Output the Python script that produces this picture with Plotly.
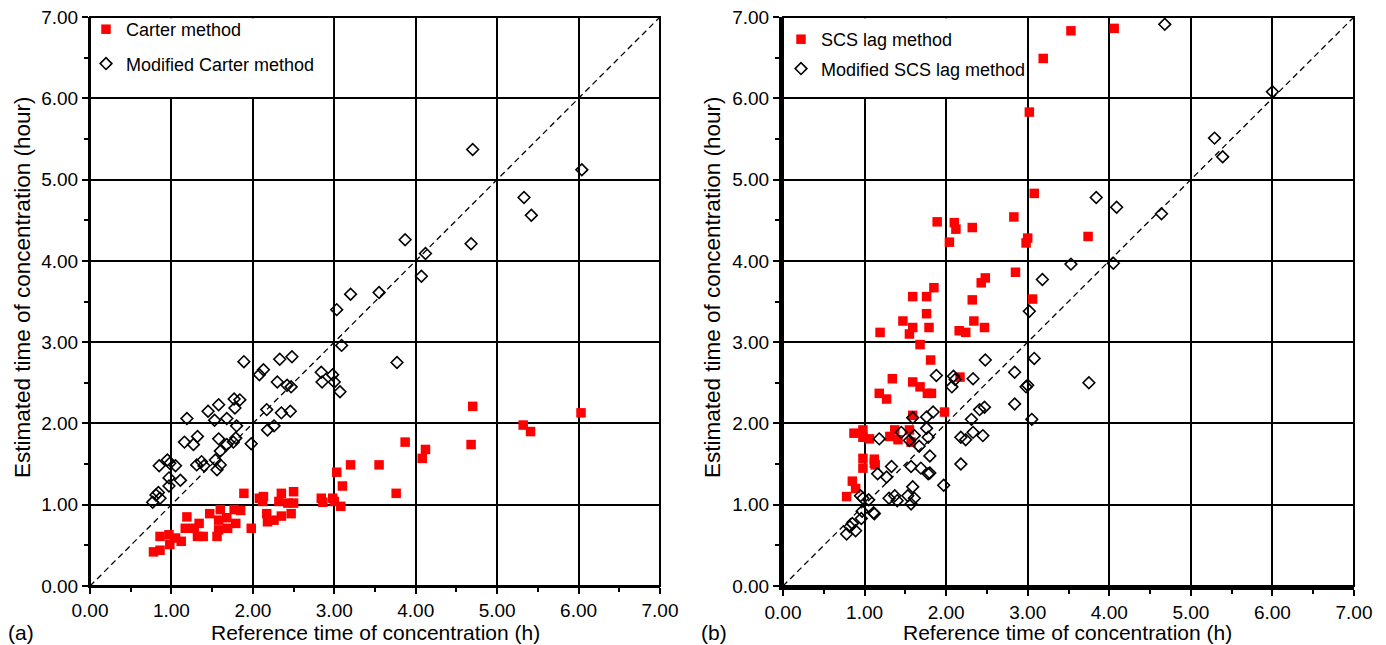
import plotly.graph_objects as go

# ---- (a) Carter method vs modified Carter method ----
carter_x = [0.78, 0.86, 0.86, 0.97, 0.98, 1.05, 1.12, 1.19, 1.17, 1.28, 1.34, 1.32, 1.39, 1.47,
            1.56, 1.58, 1.60, 1.58, 1.68, 1.69, 1.77, 1.79, 1.85, 1.89, 1.98, 2.08, 2.13, 2.12,
            2.17, 2.18, 2.26, 2.35, 2.32, 2.35, 2.43, 2.50, 2.47, 2.50, 2.84, 2.86, 2.98, 3.00,
            3.03, 3.08, 3.10, 3.20, 3.55, 3.76, 3.87, 4.08, 4.12, 4.68, 4.70, 5.32, 5.41, 6.03]
carter_y = [0.42, 0.44, 0.61, 0.63, 0.51, 0.59, 0.55, 0.85, 0.71, 0.71, 0.77, 0.61, 0.61, 0.89,
            0.61, 0.69, 0.94, 0.81, 0.84, 0.71, 0.94, 0.77, 0.93, 1.14, 0.71, 1.08, 1.10, 1.04,
            0.89, 0.79, 0.81, 1.14, 1.04, 0.86, 1.02, 1.16, 0.89, 1.02, 1.08, 1.03, 1.08, 1.04,
            1.40, 0.98, 1.23, 1.49, 1.49, 1.14, 1.77, 1.57, 1.68, 1.74, 2.21, 1.98, 1.90, 2.13]

mod_carter_x = [0.77, 0.84, 0.86, 0.81, 0.85, 0.95, 0.97, 0.97, 0.98, 1.05, 1.11, 1.16, 1.19, 1.27,
                1.32, 1.31, 1.37, 1.40, 1.45, 1.53, 1.54, 1.56, 1.60, 1.58, 1.58, 1.60, 1.68, 1.68,
                1.77, 1.78, 1.80, 1.79, 1.84, 1.76, 1.89, 1.98, 2.08, 2.13, 2.17, 2.18, 2.26, 2.30,
                2.33, 2.35, 2.42, 2.47, 2.46, 2.48, 2.84, 2.85, 2.98, 3.00, 3.07, 3.03, 3.09, 3.20,
                3.55, 3.77, 3.87, 4.07, 4.12, 4.68, 4.70, 5.33, 5.42, 6.04]
mod_carter_y = [1.03, 1.15, 1.08, 1.12, 1.48, 1.55, 1.23, 1.33, 1.51, 1.48, 1.30, 1.77, 2.06, 1.74,
                1.84, 1.49, 1.53, 1.48, 2.15, 2.04, 1.55, 1.43, 1.49, 2.23, 1.81, 1.66, 1.74, 2.06,
                2.30, 2.19, 1.97, 1.82, 2.29, 1.77, 2.76, 1.75, 2.60, 2.66, 2.17, 1.92, 1.97, 2.51,
                2.79, 2.13, 2.47, 2.45, 2.15, 2.82, 2.63, 2.51, 2.60, 2.51, 2.39, 3.40, 2.96, 3.59,
                3.61, 2.75, 4.26, 3.81, 4.09, 4.21, 5.37, 4.78, 4.56, 5.12]

# ---- (b) SCS lag method vs modified SCS lag method ----
scs_x = [3.53, 4.06, 3.19, 3.02, 3.08, 2.83, 3.00, 2.98, 3.74, 2.85, 3.06, 2.04, 2.12, 2.32,
         1.89, 2.10, 2.48, 2.43, 1.85, 1.59, 1.76, 2.32, 1.76, 1.47, 1.59, 1.79, 1.19, 1.55,
         2.34, 2.47, 2.16, 2.24, 1.68, 1.81, 1.34, 1.59, 1.68, 1.77, 1.82, 1.18, 1.27, 2.17,
         1.98, 1.59, 0.87, 0.98, 0.98, 1.06, 1.37, 1.31, 1.41, 1.55, 1.57, 0.98, 1.12, 1.12,
         0.98, 1.13, 0.85, 0.89, 0.78]
scs_y = [6.83, 6.86, 6.49, 5.83, 4.83, 4.54, 4.28, 4.22, 4.30, 3.86, 3.53, 4.23, 4.39, 4.41,
         4.48, 4.47, 3.79, 3.73, 3.67, 3.56, 3.56, 3.52, 3.35, 3.26, 3.18, 3.18, 3.12, 3.10,
         3.26, 3.18, 3.14, 3.12, 2.97, 2.78, 2.55, 2.51, 2.45, 2.37, 2.37, 2.37, 2.30, 2.57,
         2.14, 2.10, 1.88, 1.92, 1.83, 1.81, 1.92, 1.84, 1.80, 1.92, 1.77, 1.57, 1.56, 1.51,
         1.45, 1.49, 1.29, 1.20, 1.10]

mod_scs_x = [4.68, 6.00, 5.29, 5.39, 3.84, 4.09, 4.64, 3.53, 4.05, 3.18, 3.02, 3.08, 2.48, 2.33,
             2.84, 2.98, 3.00, 3.75, 2.84, 2.47, 2.41, 2.31, 3.05, 2.33, 2.24, 2.45, 2.18, 2.18,
             1.88, 2.09, 2.07, 2.11, 1.84, 1.76, 1.59, 1.76, 1.45, 1.18, 1.55, 1.61, 1.78, 1.67,
             1.80, 1.33, 1.57, 1.69, 1.97, 1.16, 1.27, 1.78, 1.80, 1.59, 1.53, 1.61, 1.57, 1.30,
             1.37, 1.40, 0.95, 0.98, 1.05, 0.97, 0.96, 1.11, 1.12, 0.85, 0.82, 0.89, 0.78]
mod_scs_y = [6.91, 6.08, 5.51, 5.28, 4.78, 4.66, 4.58, 3.96, 3.97, 3.77, 3.38, 2.80, 2.78, 2.55,
             2.63, 2.45, 2.47, 2.50, 2.24, 2.20, 2.17, 2.05, 2.05, 1.89, 1.80, 1.85, 1.83, 1.50,
             2.59, 2.58, 2.45, 2.54, 2.14, 2.08, 2.07, 1.94, 1.89, 1.81, 1.79, 1.85, 1.83, 1.72,
             1.60, 1.47, 1.47, 1.45, 1.24, 1.38, 1.34, 1.38, 1.39, 1.22, 1.11, 1.08, 1.01, 1.08,
             1.11, 1.05, 1.11, 1.08, 1.06, 0.92, 0.83, 0.90, 0.89, 0.77, 0.73, 0.68, 0.64]

ticks = [0, 1, 2, 3, 4, 5, 6, 7]
tick_labels = ['0.00', '1.00', '2.00', '3.00', '4.00', '5.00', '6.00', '7.00']

FONT = 'Liberation Sans, Arial, sans-serif'
W, H = 1386, 645


def px(x):
    return x / W


def py(y):
    return 1 - y / H


red_marker = dict(symbol='square', size=9.5, color='#ff0000', line=dict(width=0))
dia_marker = dict(symbol='diamond-open', size=9, color='black', line=dict(width=1.6, color='black'))

fig = go.Figure()

# 1:1 reference lines
for xa, ya in [('x', 'y'), ('x2', 'y2')]:
    fig.add_scatter(x=[ticks[0], ticks[-1]], y=[ticks[0], ticks[-1]], mode='lines',
                    line=dict(color='black', width=1.3, dash='6px,4px'),
                    xaxis=xa, yaxis=ya, showlegend=False, hoverinfo='skip')

fig.add_scatter(x=carter_x, y=carter_y, mode='markers', name='Carter method',
                marker=red_marker, xaxis='x', yaxis='y', legend='legend', legendgroup='a1')
fig.add_scatter(x=mod_carter_x, y=mod_carter_y, mode='markers', name='Modified Carter method',
                marker=dia_marker, xaxis='x', yaxis='y', legend='legend', legendgroup='a2')
fig.add_scatter(x=scs_x, y=scs_y, mode='markers', name='SCS lag method',
                marker=red_marker, xaxis='x2', yaxis='y2', legend='legend2', legendgroup='b1')
fig.add_scatter(x=mod_scs_x, y=mod_scs_y, mode='markers', name='Modified SCS lag method',
                marker=dia_marker, xaxis='x2', yaxis='y2', legend='legend2', legendgroup='b2')


def axis(domain, lw, anchor):
    return dict(domain=domain, anchor=anchor, range=[0, 7], tickvals=ticks, ticktext=tick_labels,
                automargin=False,
                showgrid=True, gridcolor='black', gridwidth=1.5, zeroline=False,
                showline=True, linecolor='black', linewidth=lw,
                ticks='outside', ticklen=6, tickwidth=1.5, tickcolor='black',
                minor=dict(dtick=0.5, ticks='outside', ticklen=4, tickwidth=1.5,
                           tickcolor='black', showgrid=False),
                tickfont=dict(family=FONT, size=19, color='black'), fixedrange=True)


yd = [py(586), py(17)]
fig.update_layout(
    template='none',
    width=W, height=H, margin=dict(l=0, r=0, t=0, b=0, autoexpand=False),
    paper_bgcolor='white', plot_bgcolor='white',
    font=dict(family=FONT, color='black'),
    xaxis=axis([px(90), px(660)], 2, 'y'),
    yaxis=axis(yd, 2, 'x'),
    xaxis2=axis([px(783), px(1354)], 4, 'y2'),
    yaxis2=axis(yd, 4, 'x2'),
    legend=dict(x=px(86), y=py(11), xanchor='left', yanchor='top', bgcolor='rgba(0,0,0,0)',
                font=dict(family=FONT, size=18), traceorder='grouped', tracegroupgap=8),
    legend2=dict(x=px(781), y=py(21), xanchor='left', yanchor='top', bgcolor='rgba(0,0,0,0)',
                 font=dict(family=FONT, size=18), traceorder='grouped', tracegroupgap=3,
                 itemwidth=30),
)

# legend boxes hide the grid, plus plot frames
for xa, ya in [('x', 'y'), ('x2', 'y2')]:
    fig.add_shape(type='rect', xref=xa, yref=ya, x0=0.05, x1=2.985, y0=6.015, y1=6.985,
                  fillcolor='white', line=dict(width=0), layer='between')
    fig.add_shape(type='rect', xref=xa + ' domain', yref=ya + ' domain', x0=0, x1=1, y0=0, y1=1,
                  line=dict(color='black', width=2), layer='above')

notes = [
    dict(text='Reference time of concentration (h)', x=375, y=632),
    dict(text='Reference time of concentration (h)', x=1067, y=632),
    dict(text='(a)', x=21, y=632),
    dict(text='(b)', x=714, y=632),
]
for n in notes:
    fig.add_annotation(text=n['text'], x=px(n['x']), y=py(n['y']), xref='paper', yref='paper',
                       showarrow=False, xanchor='center', yanchor='middle',
                       font=dict(family=FONT, size=21, color='black'))
for xc in [22, 712]:
    fig.add_annotation(text='Estimated time of concentration (hour)', x=px(xc), y=py(288),
                       xref='paper', yref='paper', showarrow=False, textangle=-90,
                       xanchor='center', yanchor='middle',
                       font=dict(family=FONT, size=22.5, color='black'))

# the page's default body margin would push the figure off the window
fig.write_html("out.html", config={'displayModeBar': False},
               post_script="document.body.style.margin='0';")
